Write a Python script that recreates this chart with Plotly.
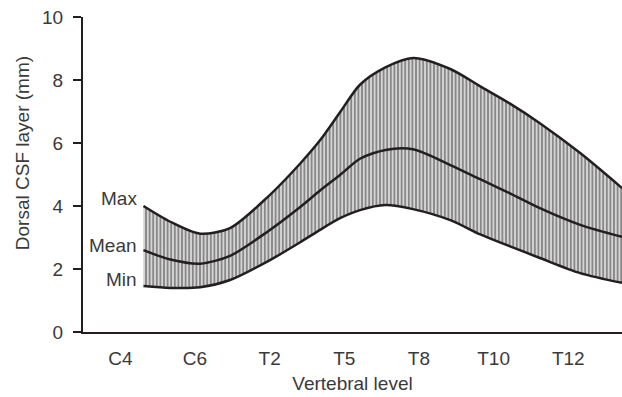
import plotly.graph_objects as go

categories = ["C4", "C6", "T2", "T5", "T8", "T10", "T12"]
cat_pos = list(range(len(categories)))

# sample positions along the vertebral axis (in category-index units)
xs = [0.31, 0.67, 1.07, 1.47, 1.98, 2.41, 2.68, 2.95, 3.21, 3.55, 3.92, 4.42, 4.82, 5.22, 5.62, 6.16, 6.72]
max_vals = [4.0, 3.5, 3.12, 3.3, 4.3, 5.35, 6.1, 7.0, 7.85, 8.4, 8.7, 8.35, 7.8, 7.25, 6.63, 5.68, 4.57]
mean_vals = [2.6, 2.3, 2.17, 2.42, 3.2, 3.97, 4.5, 5.0, 5.5, 5.78, 5.8, 5.3, 4.85, 4.4, 3.93, 3.4, 3.02]
min_vals = [1.46, 1.4, 1.42, 1.65, 2.25, 2.85, 3.25, 3.62, 3.87, 4.03, 3.9, 3.55, 3.1, 2.72, 2.35, 1.87, 1.56]

y_ticks = [0, 2, 4, 6, 8, 10]
labels = ["Max", "Mean", "Min"]

line_col = "#231f20"
text_col = "#3a3a3a"
font_fam = "Liberation Sans, Arial, sans-serif"
fs = 19

fig = go.Figure()
fig.add_trace(go.Scatter(x=xs, y=min_vals, mode="lines",
                         line=dict(color=line_col, width=2.5, shape="spline", smoothing=0.8),
                         hoverinfo="skip", showlegend=False))
fig.add_trace(go.Scatter(x=xs, y=max_vals, mode="lines", fill="tonexty",
                         fillcolor="white",
                         fillpattern=dict(shape="|", size=3.6, solidity=0.68,
                                          fgcolor="#111111", bgcolor="white"),
                         line=dict(color=line_col, width=2.5, shape="spline", smoothing=0.8),
                         hoverinfo="skip", showlegend=False))
fig.add_trace(go.Scatter(x=xs, y=mean_vals, mode="lines",
                         line=dict(color=line_col, width=2.5, shape="spline", smoothing=0.8),
                         hoverinfo="skip", showlegend=False))

label_y = [4.25, 2.76, 1.68]
for lab, ly in zip(labels, label_y):
    fig.add_annotation(x=0.255, y=ly, xref="x", yref="y", text=lab, showarrow=False,
                       xanchor="right", yanchor="middle",
                       font=dict(size=fs, color=text_col, family=font_fam))

fig.add_annotation(x=-0.113, y=0.568, xref="paper", yref="paper", text="Dorsal CSF layer (mm)",
                   showarrow=False, textangle=-90, xanchor="center", yanchor="middle",
                   font=dict(size=fs, color=text_col, family=font_fam))

fig.update_layout(
    width=622, height=397,
    margin=dict(l=83, r=0, t=17, b=65),
    plot_bgcolor="white", paper_bgcolor="white",
    font=dict(family=font_fam, size=fs, color=text_col),
    xaxis=dict(range=[-0.5, 6.72], tickmode="array", tickvals=cat_pos, ticktext=categories,
               tickfont=dict(size=fs),
               showgrid=False, zeroline=False, showline=True, linecolor=line_col, linewidth=2,
               ticks="", ticklabelstandoff=8,
               title=dict(text="Vertebral level", font=dict(size=fs, color=text_col), standoff=9)),
    yaxis=dict(range=[0, 10], tickmode="array", tickvals=y_ticks, tickfont=dict(size=fs),
               showgrid=False, zeroline=False, showline=True, linecolor=line_col, linewidth=2,
               ticks="outside", ticklen=8, tickwidth=2, tickcolor=line_col, ticklabelstandoff=6),
)

fig.write_html("out.html")
